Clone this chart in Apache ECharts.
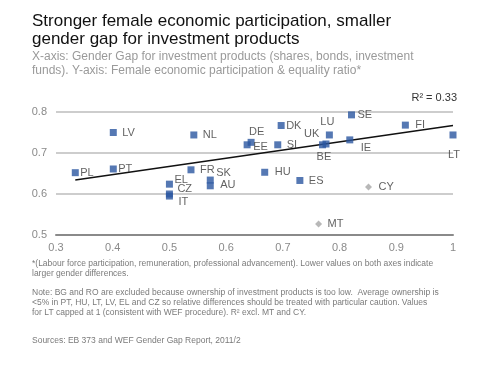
<!DOCTYPE html>
<html>
<head>
<meta charset="utf-8">
<script src="https://cdn.jsdelivr.net/npm/echarts@6/dist/echarts.min.js"></script>
<style>html,body{margin:0;padding:0;background:#fff;}#c{width:480px;height:368px;}</style>
</head>
<body>
<div id="c"></div>
<script>
// ---- data ----
var countries = ['PL','LV','PT','NL','FR','SK','AU','EL','CZ','IT','DE','EE','DK','SI','LU','UK','BE','IE','SE','FI','LT','HU','ES'];
var gapX      = [0.334,0.401,0.401,0.543,0.538,0.572,0.572,0.500,0.500,0.500,0.644,0.637,0.697,0.691,0.782,0.776,0.770,0.818,0.821,0.916,1.000,0.668,0.730];
var ratioY    = [0.652,0.750,0.661,0.744,0.659,0.634,0.620,0.624,0.600,0.595,0.726,0.720,0.767,0.720,0.744,0.722,0.720,0.732,0.793,0.768,0.744,0.653,0.633];
var excludedCountries = ['CY','MT'];
var excludedX = [0.851,0.763];
var excludedY = [0.617,0.527];
var trendX = [0.334, 1.0];
var trendY = [0.634, 0.767];
var rSquared = 'R² = 0.33';
var xTicks = [0.3,0.4,0.5,0.6,0.7,0.8,0.9,1];
var yTicks = [0.5,0.6,0.7,0.8];

// label placement (style only)
var labelOffset = {
  PL:[5,0], LV:[9,0], PT:[5,0], NL:[9,0], FR:[9,0], SK:[6,-7], AU:[10,-1],
  EL:[5,-4], CZ:[8,-5], IT:[9,6], DE:[-2,-10], EE:[6,2], DK:[5,0], SI:[9,0],
  LU:[-9,-13], UK:[-22,-10], BE:[-6,12], IE:[11,8], SE:[6,0], FI:[10,0],
  LT:[-5,20], HU:[10,0], ES:[9,0], CY:[10,0], MT:[9,0]
};

function mk(names, xs, ys){
  return names.map(function(n,i){
    return {name:n, value:[xs[i], ys[i]],
      label:{show:true, formatter:n, position:'inside', align:'left', verticalAlign:'middle',
        offset:labelOffset[n]||[8,0]}};
  });
}

var FONT = 'Liberation Sans, Arial, sans-serif';
var chart = echarts.init(document.getElementById('c'));
var option = {
  animation:false,
  backgroundColor:'#fff',
  grid:{left:56, right:27, top:112, bottom:133},
  xAxis:{type:'value', min:xTicks[0], max:xTicks[xTicks.length-1], interval:0.1,
    axisLine:{show:true, lineStyle:{color:'#8a8a8a', width:2}},
    axisTick:{show:false}, splitLine:{show:false},
    axisLabel:{color:'#8a8a8a', fontSize:11, fontFamily:FONT, margin:7}},
  yAxis:{type:'value', min:yTicks[0], max:yTicks[yTicks.length-1], interval:0.1,
    axisLine:{show:false}, axisTick:{show:false},
    splitLine:{show:true, lineStyle:{color:'#bdbdbd', width:1.5}},
    axisLabel:{color:'#8a8a8a', fontSize:11, fontFamily:FONT, margin:9}},
  series:[
    {type:'line', data:trendX.map(function(x,i){return [x,trendY[i]];}), showSymbol:false,
      lineStyle:{color:'#111', width:1.5}, z:3, silent:true},
    {type:'scatter', symbol:'rect', symbolSize:7, data:mk(countries,gapX,ratioY),
      itemStyle:{color:'#2a56a0'},
      label:{color:'#3a3a3a', fontSize:11, fontFamily:FONT}, z:4},
    {type:'scatter', symbol:'diamond', symbolSize:7, data:mk(excludedCountries,excludedX,excludedY),
      itemStyle:{color:'#a6a6a6'},
      label:{color:'#3a3a3a', fontSize:11, fontFamily:FONT}, z:4}
  ],
  graphic:[
    {type:'text', left:32, top:13, style:{text:'Stronger female economic participation, smaller', font:'17px "Liberation Sans", Arial, sans-serif', fill:'#111'}},
    {type:'text', left:32, top:31, style:{text:'gender gap for investment products', font:'17px "Liberation Sans", Arial, sans-serif', fill:'#111'}},
    {type:'text', left:32, top:51, style:{text:'X-axis: Gender Gap for investment products (shares, bonds, investment', font:'12px "Liberation Sans", Arial, sans-serif', fill:'#9a9a9a'}},
    {type:'text', left:32, top:65, style:{text:'funds). Y-axis: Female economic participation & equality ratio*', font:'12px "Liberation Sans", Arial, sans-serif', fill:'#9a9a9a'}},
    {type:'text', right:23, top:92, style:{text:rSquared, font:'11px "Liberation Sans", Arial, sans-serif', fill:'#333'}},
    {type:'text', left:32, top:259, style:{text:'*(Labour force participation, remuneration, professional advancement). Lower values on both axes indicate\nlarger gender differences.', font:'8.5px "Liberation Sans", Arial, sans-serif', fill:'#7a7a7a', lineHeight:9.5}},
    {type:'text', left:32, top:288, style:{text:'Note: BG and RO are excluded because ownership of investment products is too low.  Average ownership is\n<5% in PT, HU, LT, LV, EL and CZ so relative differences should be treated with particular caution. Values\nfor LT capped at 1 (consistent with WEF procedure). R² excl. MT and CY.', font:'8.5px "Liberation Sans", Arial, sans-serif', fill:'#7a7a7a', lineHeight:9.7}},
    {type:'text', left:32, top:336, style:{text:'Sources: EB 373 and WEF Gender Gap Report, 2011/2', font:'8.5px "Liberation Sans", Arial, sans-serif', fill:'#7a7a7a'}}
  ]
};
chart.setOption(option);
</script>
</body>
</html>
